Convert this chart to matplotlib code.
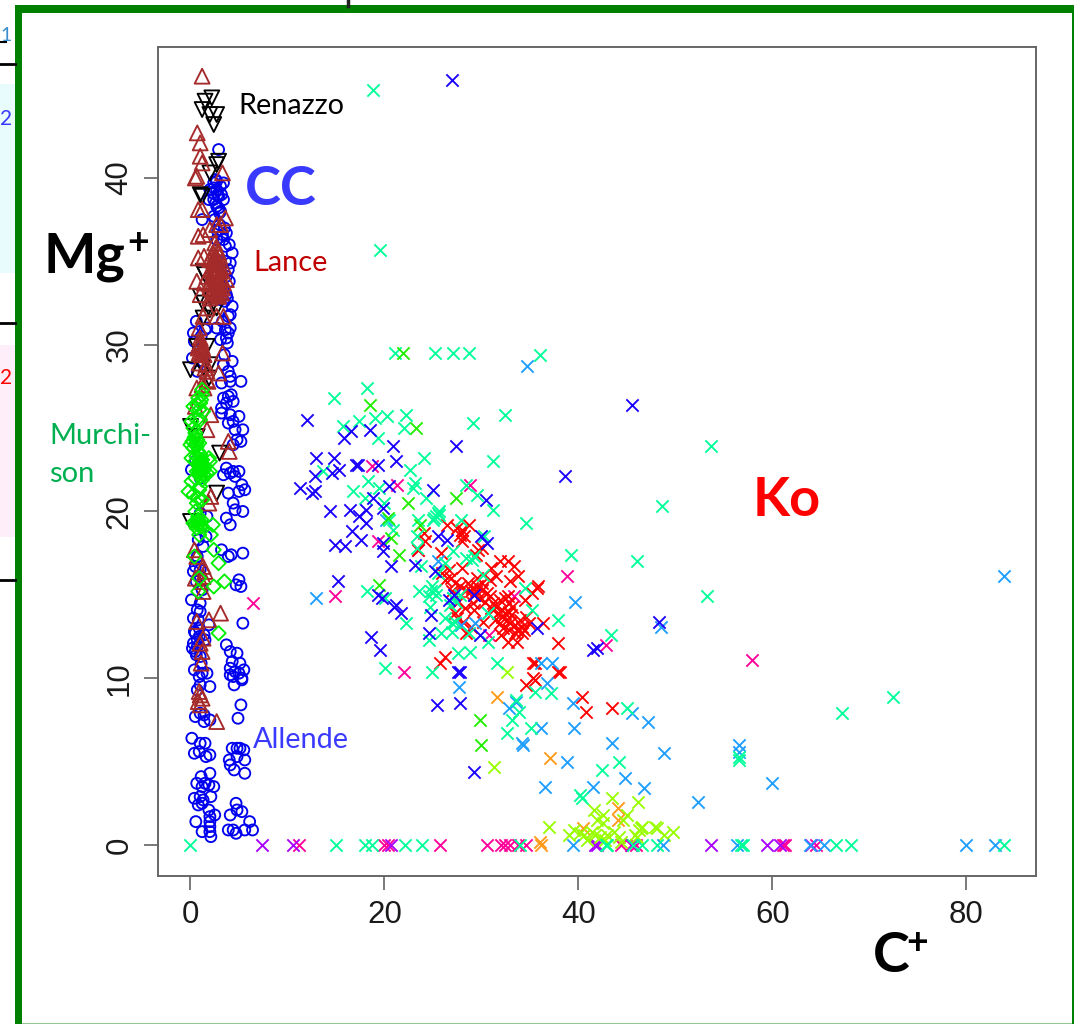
import matplotlib
matplotlib.use("Agg")
import matplotlib.pyplot as plt
from matplotlib.patches import Rectangle

# Ko crosses, grouped by colour
spring_x = [18.8,19.5,21.1,25.2,27.1,28.7,36.0,18.2,14.8,20.3,19,22.2,17.4,15.7,22,19.3,29.1,32.4,24.1,31.2,22.6,13.7,18.3,23.2,22.9,16.8,19.4,18,20,24.3,28.4,29.5,31.2,34.6,20.5,20.9,23.5,25.5,25,25.6,25.3,27.9,23.4,23.4,30.3,27.1,23.8,26.3,28.4,29.2,29,39.2,30.2,25.5,18.2,20.1,23.6,24.8,25.2,24.6,25.3,34.5,27.1,35.2,24.7,30.7,22.2,26.3,37.9,27,27.3,25.8,27,28.7,24.6,30.7,27.6,28.8,20.1,24.9,31.6,46,48.6,53.7,43.4,53.3,72.5,67.2,45,35.5,37.2,33.6,33.9,33.2,35.1,32.6,44.2,42.4,40.2,40.4,56.6,56.6,0,15,18,18.7,22.1,23.9,34,43,42.9,45.6,46.6,48.1,57,56.8,66.6,68.1,83.9,25.6,25.1,24.9,27.4,26.8,27.8]
spring_y = [45.3,35.7,29.5,29.5,29.5,29.5,29.4,27.4,26.8,25.7,25.6,25.8,25.4,25.1,25,24.4,25.3,25.8,23.2,23,22.5,22.4,21.8,21.7,21.4,21.2,21.4,20.8,20.5,20.8,21.6,21,20.1,19.3,19.5,18.9,19.5,19.9,19.5,20,19.7,19.5,18.5,17.8,18.5,17.6,16.7,16.9,17.2,17.3,17.1,17.4,16.2,16.3,15.2,14.8,15.2,15.2,15.3,14.9,15,15.4,14.8,14.1,14.3,13.9,13.3,13.6,13.5,13.3,13.4,12.7,12.8,12.7,12.3,12.2,11.5,11.6,10.6,10.4,10.9,17,20.3,23.9,12.6,14.9,8.9,7.9,8.2,9.2,9.1,8.7,8,7.5,7,6.7,5,4.5,3,2.8,5.3,5.1,0,0,0,0,0,0,0,0,0,0,0,0,0,0,0,0,0,19.8,19.6,15.5,14.6,14.4,15]

red_x = [26.5,27.5,28.7,28,28.2,27.8,28,24.1,24.2,23.5,29.7,30.1,29.4,25.8,31.9,32.7,33.4,33.8,33,26.7,28,26.9,27.3,25.9,31,31.5,30.1,29.6,29,28.4,29.2,30.1,35.7,35.8,35.2,31.9,32.4,32.9,31.5,32.1,33.2,34.5,27.3,27.5,29.1,29.2,32.1,32.6,31.9,33.5,34.2,34.9,36.4,32,32.7,33.7,33.5,34.2,32.9,28.4,37.9,26.3,25.7,35.3,37.9,35.3,35.5,38.1,35.5,34.6,40.4,40.8,43.5,
         27.8,28.6,28.9,29.4,30.6,30.9,27.6,28.3,29.8,30.4,31.2,32.9,33.1,32.4,31.7,31.4,32.2,33.7,34,34.4,31,30.2,28.9,26.2,27,29.5,30.9,32.7,33,34.6,28.1]
red_y = [19.2,19,19.2,18.9,18.5,18.6,18.2,18.7,18.2,17.7,17.7,17.8,17.4,17.5,17,17,16.7,16.1,15.8,16.5,16.6,16,15.7,16.3,16.6,16.1,15.7,15.5,15.4,15.3,15,15.3,15.4,15.5,15.1,14.7,14.8,14.5,14.3,14.1,14.3,14.7,13.9,13.6,14.5,14.1,13.7,13.5,13.3,13.2,13.1,13.3,13.3,12.6,12.2,12.2,12.7,12.7,12.9,12.7,12.1,11.3,10.9,10.9,10.4,10,10.9,10.4,9.9,9.6,8.9,8,8.2,
         15.5,15.7,15.2,15.2,15.1,14.9,14.6,14.2,14.8,14.6,14.5,14,13.8,13.9,13.9,13.5,13,12.9,13.5,12.9,14.2,13.4,13.1,15.9,15.2,16,15.9,14.9,13.3,13.7,13.4]

navy_x = [12,16.6,15.8,18.5,20.9,27.4,12.9,14.8,15.3,14.6,12.8,12.8,12.5,11.3,17.1,17.3,19.3,21.2,20.5,25,18.8,19.9,30.5,38.6,14.4,16.5,18.1,17.4,18.1,16.7,17.6,14.9,15.9,19.9,19.9,25.5,26.5,30.6,30,20.7,23.2,25.2,19.3,19.8,21,21.2,21.7,27.2,26.7,29.2,24.8,35.7,29.9,24.6,15.2,18.6,19.5,27.6,41.5,27.8,27.8,29.2,25.4,45.5,27,48.3,41.9]
navy_y = [25.5,24.8,24.4,24.9,23.9,23.9,23.2,23.2,22.5,22.3,22.1,21.2,21.1,21.4,22.8,22.8,22.8,23,21.5,21.3,20.8,20.2,20.7,22.1,20,20.1,20.1,19.7,19.3,18.8,18.3,18,17.9,18.1,17.6,18.5,18.3,18.1,18.5,16.7,16.8,16.4,15,14.8,14.3,14.4,13.9,15,14.7,15,13.8,13,12.6,12.7,15.8,12.5,11.7,10.4,11.7,10.4,8.5,4.4,8.4,26.4,45.9,13.4,11.8]

azure_x = [34.7,39.7,83.9,48.5,25.5,20.2,27.9,29.3,30.7,27.1,12.9,37.3,36.2,36.8,27.7,32.9,33.6,36.1,39.5,39.6,45.5,47.2,34.2,34.3,38.8,43.5,48.8,56.6,56.6,44.8,41.5,46.8,36.6,52.3,60,39.5,48.7,56.4,80,83,63.9,65.3]
azure_y = [28.7,14.6,16.1,13.1,17,19.5,13.2,13.3,13.9,14.8,14.8,10.9,10.9,9.7,9.5,8.2,8.6,7,8.5,7,7.9,7.4,6.1,6,5,6.1,5.5,6,5.6,4,3.5,3.4,3.5,2.6,3.7,0,0,0,0,0,0,0]

pink_x = [18.7,21.3,28.8,19.3,23.5,38.8,14.9,33.4,30.8,22,6.4,57.9,42.9,30.6,32,32.4,33,33.8,34.6,44.4,45.4,45.9,11.2,20,20.4,25.7,61.3,61.1,64.5]
pink_y = [22.7,21.6,21.6,18.2,17.7,16.1,14.9,14.9,12.6,10.4,14.5,11.1,12,0,0,0,0,0,0,0,0,0,0,0,0,0,0,0,0]

purple_x = [7.4,10.6,20.7,41.7,53.7,41.9,59.5,60.8,45.5,64]
purple_y = [0,0,0,0,0,0,0,0,0,0]

orange_x = [31.6,37.1,44.1,44.1,40.5,36,36.1]
orange_y = [8.9,5.2,2.2,1.5,1,0.2,0]

green_x = [21.9,18.5,23.3,22.4,27.4,20.4,23.7,20.7,21.5,19.4,29.9,30]
green_y = [29.5,26.4,25,20.5,20.8,19.6,19.2,18.4,17.4,15.6,7.5,6]

lime_x = [32.6,31.3,37,43.5,46.2,41.6,42.5,41.9,45,42.5,44.6,39,39.6,40.2,40.6,40.9,41.4,41.7,42.2,43,43.7,44.2,44.4,42.8,45.8,46.5,46.6,46.3,47.9,48.1,48.8,49.8,46]
lime_y = [10.4,4.7,1.1,2.8,2.6,2.1,1.8,1.5,1.8,1.3,1.5,0.6,0.9,0.7,0.6,0.3,0.8,0.6,0.5,0.6,0.8,0.5,0.2,0.3,0.6,1,1.1,0.9,1.1,1,0.6,0.8,0.5]

# meteorite groups
allende_x = [.14,1,1.5,.4,.9,1.6,2,1.1,2,.65,1.2,1.5,1.9,2.4,2.1,.4,1,1.3,1.2,.8,1.9,2.5,2,2,.55,2,1.2,2,2.1,
             4.3,4.8,5.1,5.5,4.8,5.6,4,4.1,4.5,5.6,4.7,4.8,5.3,4.1,6.1,3.9,4.4,4.7,5.6,6.4,
             2,4.5,5.2,4.9,.5,1,1.4,1.4,2,.7,1,5.3,
             1,1.7,1.3,.7,.5,1,.1,1,1,1.9,.5,.7,.3,.9,.5,1,1.5,1.2,1.7,.7,
             3.7,4.1,5.4,4.4,4.6,3.2,3.9,4.2,5.4,5,5.2,4.7,5.4,3.7,4.1,4.8,4.3,5.1,4.1,4.6,5.5,5,4.4,5.3,4.1,
             5.2,4.1,3.2,3.9,4.3,3.8,3.1,3.4,3.9,4.4,3.7,3.2,4.1,5,4.4,3.9,5.4,4.6,4.8,5.2,4.4,
             3.7,4.4,4.1,5,4.6,3.4,3.9,5.3,5.6,5,.1,
             2.9,3.4,2.4,2.7,2,3.4,2.4,1.9,2.7,3,1.2,3.7,4.3,3.6,4.1,3.7,3.4,3.7,4.3,3.9,4.1,3.6,.3,1.7,2.7,2.7,3.4,3.1,
             2.4,2.7,3.1,2.9,2.6,3.1,2.8,2.3,3.5,4,.5,1,3.2,4.2,.8,
             2.6,3.2,2.9,2.5,3,2.8,2.4,3.3,3.6,3.9,4,3.1,3.5,3.8,4.1,3.3,3.7,3.9,3.5,3.4,4.1,.6,1.1,.4,.8,1.3,.2,.7,1.5,
             .4,.9,1.4,.2,.6,1.1,.4,.9,.3,.7,1.2,.6,1,.3,1.6,.8]
allende_y = [6.4,6.1,6.1,5.5,5.6,5.3,5.4,4.1,4.3,3.7,3.5,3.7,3.6,3.5,2.9,2.8,2.9,2.7,2.5,2.4,2.1,1.8,1.7,1.4,1.4,1.1,.8,.8,.5,
             5.8,5.8,5.8,5.7,5.3,5.1,5.1,4.8,4.5,4.3,2.5,2.1,2,1.8,1.4,.9,.9,.7,.9,.9,
             9.5,9.6,8.4,7.6,7.7,7.9,7.8,7.4,7.5,9.3,9.6,9.9,
             19.9,19.7,17.9,17.3,16.7,16.5,14.7,14.5,14,13.2,12.7,12.3,12.1,12.5,11.6,11.3,12.3,10.3,10.3,11.9,
             19.6,19.2,20,20.5,20.1,17.7,17.3,17.4,17.5,15.9,15.5,15.6,13.3,12,11.6,11.5,11,10.9,10.6,10.4,10.5,10.3,10.1,10,10.2,
             27.8,27.8,27.7,28.4,29,30.1,30.3,26.8,26.9,26.6,26.5,25.9,25.8,25.7,25.4,25.3,24.9,24.9,24.3,24.2,24,
             22.6,22.4,22.3,22.4,22.1,22.2,21.1,21.6,21.3,21.2,22.5,
             41.7,39.7,39.7,39.3,39.3,38.7,38.7,38.7,38.3,37.9,37.5,36.7,35.5,35.9,34.9,34.1,33.3,33,32.3,31.7,31,30.9,30.7,31,31,36.3,36.3,32.7,
             39.4,39.8,39.5,38.9,38.5,38,39,39.1,37,36,23,22,26.2,27,13.5,
             39.9,39,38.2,37.5,37.2,36.8,37.7,36.6,35,34.5,33.8,33.2,32.6,32.8,31.8,31.4,30.4,30.7,29.4,28.8,28.1,31.4,30.5,30.2,29.7,29,29.2,28.4,30.9,
             12.8,13,12.6,11.8,11.4,10.9,10.5,10.1,13.6,14.1,15.3,15.8,16.1,16.4,18.5,18.3]

lance_x = [1.2,.7,1,1,1.2,.65,.5,3.3,1.2,.8,3.6,2.7,2,3.1,.8,1.3,.8,1.4,
           2.7,2.3,3,2,2.7,3.4,1.7,2.4,3,3.7,2,2.7,3.4,1.4,2.4,2.7,2.9,2.4,
           .65,1,2,2.9,1.7,2.7,3.4,1.3,.9,
           1,1.2,.8,1.3,3.3,.9,2.9,1.7,.65,2.1,.5,1.7,3.9,4,2.1,1.9,.4,.65,1.3,1.5,.5,1.3,3.1,1.9,.65,1.3,1.2,1.1,
           1,1.2,.8,1,2.7,
           2.5,2.6,2.8,2.7,2.9,3,2.4,2.2,2.5,2.8,3.1,3.2,2.3,2.6,2.9,2.1,2.4,2.7,3,3.3,2,2.3,2.6,2.9,3.2,2.5,2.8,
           1,1.1,.9,.8,1.2,1,.9,1.1,1.3,1.4,1.6,1.5,1.7,1.8,1.2,1.4,1.3,1.1,1,.9]
lance_y = [46.1,42.7,42.1,41.3,40.9,40.1,40,40.3,38.1,38.1,37.6,37.2,36.9,37.2,36.5,36.6,35.2,35.3,
           35.8,35.5,35.3,35.1,34.9,34.7,34.1,34.1,34.1,33.9,33.7,33.7,33.7,33.7,34.5,34.4,35.5,35.2,
           33.8,33,32.8,32.9,32.2,31.7,31.7,31.7,31,
           30.1,29.9,29.8,29.7,29.5,28.9,28.3,27.9,27.4,25.8,26.3,24.9,24.2,23.6,20.9,20.5,17.7,17.3,16.7,16.4,16,15.2,13.9,13.5,13.4,12.4,11.6,10.9,
           9,8.8,8.6,8.4,7.4,
           36.1,35.8,35.6,35.2,35,34.8,35,34.6,34.8,34.5,34.4,34,34.2,34.1,33.9,33.8,33.6,33.6,33.5,33.4,33.4,33.3,33.2,33.2,33.1,33.1,33,
           30.4,30.2,30,29.9,29.8,29.6,29.5,29.4,29.7,29.4,28.8,28.6,28.4,27.8,27.6,27.4,16.1,15.8,12.1,9.2]

renazzo_x = [2.2,1.5,1.2,2.7,2,2.4,2.9,2.7,2,1,1.2,1.3,1.5,1,1.3,2,1.3,2.7,0,.65,1.7,2,1.3,3,2.7,0,1.9,0,.7]
renazzo_y = [44.8,44.6,44.1,43.8,43.8,43.2,41,40.8,40.3,39,38.9,34.4,34.2,32.9,32.5,32.1,31.6,32.2,28.5,29.9,29.9,28.8,28.6,23.5,21.1,19.4,28,25.1,24.5]

murchison_x = [1.2,.8,1,.3,.65,.1,1,.5,0,.3,.65,.1,1,1.9,2,1,1.3,.65,1,1.7,2,1.2,.5,.1,-.2,.3,.8,.65,1.2,.5,.3,.8,1.2,.65,2.3,2.1,.9,2.4,2.9,.4,3.5,2.4,.9,.8,2.9,
               .8,1.2,.9,1.1,.6,1,1.4,.7,1.5,1,.5,.3,1.3,1.1,.8,.5,.9,1.2,
               1,1.2,1.4,.9,1.1,1.3,.8,1,.2,.4,.6,.9,.7,1,.6,.8,1,.7,.9,1.1]
murchison_y = [27.3,26.8,26.5,26.3,25.5,25.4,25.5,24.7,24,23.8,23.9,23.2,23.4,23.2,23,22.9,22.6,22.4,22.3,22.3,22.4,21.9,22,21.8,21.2,21,20.8,20.5,20.7,20,19.3,19.2,19.1,19,19.2,18.6,18.6,17.7,16.9,17.3,15.8,15.5,16,15.2,12.7,
               23.6,23.1,22.7,22.9,23.3,22.1,22.2,24.3,22.7,21.5,24.5,25,26,19.5,19.5,23,21.3,27,
               22.5,22.8,22.5,22.4,22.6,22.2,22.9,23.1,24.2,24.4,24.1,24.1,19.4,19.3,19.3,19.7,19.1,26.4,26.1,26.7]

x_ticks = [0, 20, 40, 60, 80]
y_ticks = [0, 10, 20, 30, 40]

fig = plt.figure(figsize=(10.74, 10.24), dpi=100)

# slide behind the plot, in pixel units
bg = fig.add_axes([0, 0, 1, 1], zorder=0)
bg.set_xlim(0, 1074)
bg.set_ylim(1024, 0)
bg.axis("off")
bg.add_patch(Rectangle((0, 84), 15, 189, color="#e8fbfd", lw=0))
bg.add_patch(Rectangle((0, 345), 15, 192, color="#fdeefa", lw=0))
for yy in [64, 323, 580]:
    bg.plot([0, 15], [yy, yy], color="black", lw=2)
bg.plot([0, 6], [42, 42], color="black", lw=1.5)
bg.plot([348, 348], [0, 6], color="#222222", lw=2.5)
bg.add_patch(Rectangle((14.5, 5), 7.5, 1019, color="green", lw=0))
bg.add_patch(Rectangle((14.5, 5), 1059.5, 7.5, color="green", lw=0))
bg.add_patch(Rectangle((1072, 5), 2, 1019, color="green", lw=0))
bg.add_patch(Rectangle((22, 1022.5), 1050, 1.5, color="#8fc98f", lw=0))
bg.text(0, 41, "1", color="#3a8fd0", fontsize=14, family="Lato", ha="left", va="baseline")
bg.text(0, 125, "2", color="#3a3aff", fontsize=15, family="Lato", ha="left", va="baseline")
bg.text(0, 384, "2", color="red", fontsize=15, family="Lato", ha="left", va="baseline")

ax = fig.add_axes([158 / 1074, 1 - 876 / 1024, (1036 - 158) / 1074, (876 - 47) / 1024], zorder=1)
ax.patch.set_alpha(0)
ax.set_xlim(-3.35, 87.2)
ax.set_ylim(-1.86, 47.85)

ax.scatter(allende_x, allende_y, marker="o", s=62, facecolors="none", edgecolors="#0000ee", linewidths=1.35, zorder=2)
ax.scatter(renazzo_x, renazzo_y, marker="v", s=115, facecolors="none", edgecolors="black", linewidths=1.35, zorder=3)
ax.scatter(lance_x, lance_y, marker="^", s=115, facecolors="none", edgecolors="#a52a2a", linewidths=1.35, zorder=4)
ax.scatter(murchison_x, murchison_y, marker="D", s=52, facecolors="none", edgecolors="#00ee00", linewidths=1.35, zorder=5)

cross = [(pink_x, pink_y, "#ff0099"), (purple_x, purple_y, "#aa00ff"), (red_x, red_y, "#ff0000"),
         (orange_x, orange_y, "#ff9a1a"), (lime_x, lime_y, "#99ff00"), (azure_x, azure_y, "#1e9fff"),
         (spring_x, spring_y, "#00ff99"), (green_x, green_y, "#22ee00"), (navy_x, navy_y, "#1a00ff")]
for cx, cy, col in cross:
    ax.scatter(cx, cy, marker="x", s=78, color=col, linewidths=1.35, zorder=6)

ax.set_xticks(x_ticks)
ax.set_yticks(y_ticks)
ax.tick_params(length=10, width=1.1, color="#555555", pad=7, labelsize=22.5, labelcolor="#1a1a1a")
for lab in ax.get_xticklabels() + ax.get_yticklabels():
    lab.set_family("Liberation Sans")
for lab in ax.get_yticklabels():
    lab.set_rotation(90)
    lab.set_va("center")
for s in ax.spines.values():
    s.set_color("#666666")
    s.set_linewidth(1.4)

# pasted labels on top of the chart
top = fig.add_axes([0, 0, 1, 1], zorder=2)
top.set_xlim(0, 1074)
top.set_ylim(1024, 0)
top.axis("off")
font = "Lato"
top.text(44, 272, "Mg", fontsize=40, fontweight="bold", family=font, color="black")
top.text(127, 254, "+", fontsize=27, fontweight="bold", family=font, color="black")
top.text(873, 972, "C", fontsize=40, fontweight="bold", family=font, color="black")
top.text(906, 954, "+", fontsize=27, fontweight="bold", family=font, color="black")
top.text(245, 205, "CC", fontsize=39, fontweight="bold", family=font, color="#3a3aff")
top.text(753, 516, "Ko", fontsize=39, fontweight="bold", family=font, color="#ff0000")
top.text(238, 114, "Renazzo", fontsize=20.8, family=font, color="black")
top.text(253, 271, "Lance", fontsize=20.8, family=font, color="#c00000")
top.text(253, 748, "Allende", fontsize=20.8, family=font, color="#3a3aff")
top.text(49, 444, "Murchi-", fontsize=21, family=font, color="#00b050")
top.text(49, 482, "son", fontsize=21, family=font, color="#00b050")

fig.savefig("out.png", dpi=100)
